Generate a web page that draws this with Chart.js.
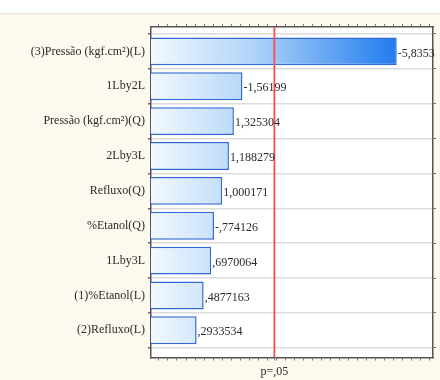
<!DOCTYPE html>
<html>
<head>
<meta charset="utf-8">
<script src="https://cdn.jsdelivr.net/npm/chart.js@4.4.1/dist/chart.umd.min.js"></script>
<style>
html,body{margin:0;padding:0;background:#fff;overflow:hidden}
#wrap{width:440px;height:380px;position:relative;}
</style>
</head>
<body>
<div id="wrap"><canvas id="c" width="440" height="380"></canvas></div>
<script>
// ---- data ----
const categories = [
  '(3)Pressão (kgf.cm²)(L)',
  '1Lby2L',
  'Pressão (kgf.cm²)(Q)',
  '2Lby3L',
  'Refluxo(Q)',
  '%Etanol(Q)',
  '1Lby3L',
  '(1)%Etanol(L)',
  '(2)Refluxo(L)'
];
const effects = [-5.8353, -1.56199, 1.325304, 1.188279, 1.000171, -0.774126, 0.6970064, 0.4877163, 0.2933534];
const critValue = 2.446912;
const critLabel = 'p=,05';

// ---- axis ranges (layout) ----
const xMin = -0.97, xMax = 6.84;
const yMin = -0.70, yMax = 8.78;

const absEffects = effects.map(Math.abs);
const fmt = v => String(v).replace(/^(-?)0\./, '$1.').replace('.', ',');
const serif = "'Liberation Serif', 'DejaVu Serif', serif";

const bgPlugin = {
  id: 'bg',
  beforeDraw(chart) {
    const ctx = chart.ctx, a = chart.chartArea;
    ctx.save();
    ctx.fillStyle = '#ffffff';
    ctx.fillRect(0, 0, chart.width, chart.height);
    ctx.fillStyle = '#fdf9ef';
    ctx.fillRect(0, 14, chart.width, chart.height - 14);
    ctx.fillStyle = '#ebe7df';
    ctx.fillRect(0, 13, chart.width, 1.5);
    ctx.fillStyle = '#ffffff';
    ctx.fillRect(a.left, a.top, a.right - a.left, a.bottom - a.top);
    ctx.restore();
  }
};

const valueLabels = {
  id: 'valueLabels',
  afterDatasetsDraw(chart) {
    const ctx = chart.ctx;
    const meta = chart.getDatasetMeta(0);
    ctx.save();
    ctx.font = '12px ' + serif;
    ctx.fillStyle = '#2b2b2b';
    ctx.textAlign = 'left';
    ctx.textBaseline = 'middle';
    meta.data.forEach((el, i) => {
      ctx.fillText(fmt(effects[i]), el.x + 1, el.y + 2);
    });
    ctx.restore();
  }
};

const quarterTicks = () => {
  const t = [];
  for (let v = -0.75; v <= 6.8; v += 0.25) t.push({ value: Math.round(v * 100) / 100 });
  return t;
};
const categoryTicks = () => categories.map((_, i) => ({ value: i }));

new Chart(document.getElementById('c').getContext('2d'), {
  type: 'bar',
  data: {
    datasets: [{
      type: 'bar',
      order: 2,
      data: absEffects.map((v, i) => ({ x: v, y: i })),
      base: xMin,
      backgroundColor(c) {
        const a = c.chart.chartArea;
        if (!a) return '#9cc8f5';
        const g = c.chart.ctx.createLinearGradient(a.left, 0, a.left + 250, 0);
        g.addColorStop(0, '#f2f8ff');
        g.addColorStop(0.4, '#b2d5f8');
        g.addColorStop(1, '#1c79ee');
        return g;
      },
      borderColor: '#3369d4',
      borderWidth: 1.5,
      borderSkipped: 'start',
      barPercentage: 0.8,
      categoryPercentage: 1.0
    }, {
      type: 'line',
      order: 1,
      indexAxis: 'y',
      data: [{ x: critValue, y: yMin }, { x: critValue, y: yMax }],
      borderColor: '#ff4d4d',
      borderWidth: 1.8,
      pointRadius: 0,
      fill: false
    }]
  },
  options: {
    indexAxis: 'y',
    responsive: false,
    animation: false,
    devicePixelRatio: 1,
    layout: { padding: { left: 0, right: 3, top: 24, bottom: 0 } },
    plugins: { legend: { display: false }, tooltip: { enabled: false } },
    scales: {
      x: {
        type: 'linear', position: 'bottom', min: xMin, max: xMax, offset: false,
        afterBuildTicks(s) { s.ticks = quarterTicks().concat([{ value: critValue }]); },
        afterFit(s) { s.height = 22.5; },
        ticks: {
          autoSkip: false, maxRotation: 0, padding: 4,
          font: { family: serif, size: 12 }, color: '#2b2b2b',
          callback(v) { return v === critValue ? critLabel : ''; }
        },
        grid: { drawOnChartArea: false, tickLength: 3, color: '#777' },
        border: { color: '#555', width: 1.5 }
      },
      x2: {
        type: 'linear', position: 'top', min: xMin, max: xMax, offset: false,
        afterBuildTicks(s) { s.ticks = quarterTicks(); },
        afterFit(s) { s.height = 3; },
        ticks: { display: false },
        grid: { drawOnChartArea: false, tickLength: 3, color: '#777' },
        border: { color: '#555', width: 1.5 }
      },
      y: {
        type: 'linear', position: 'left', reverse: true, min: yMin, max: yMax, offset: false,
        afterBuildTicks(s) { s.ticks = categoryTicks(); },
        afterFit(s) { s.width = 151; },
        ticks: {
          autoSkip: false, padding: 3,
          font: { family: serif, size: 12 }, color: '#2b2b2b',
          callback(v) { return categories[v]; }
        },
        grid: { color: '#dcdcdc', lineWidth: 1.5, tickLength: 3, tickColor: '#666' },
        border: { color: '#555', width: 1.5 }
      },
      y2: {
        type: 'linear', position: 'right', reverse: true, min: yMin, max: yMax, offset: false,
        afterBuildTicks(s) { s.ticks = categoryTicks(); },
        afterFit(s) { s.width = 4; },
        ticks: { display: false },
        grid: { drawOnChartArea: false, tickLength: 3, color: '#666' },
        border: { color: '#555', width: 1.5 }
      }
    }
  },
  plugins: [bgPlugin, valueLabels]
});
</script>
</body>
</html>
